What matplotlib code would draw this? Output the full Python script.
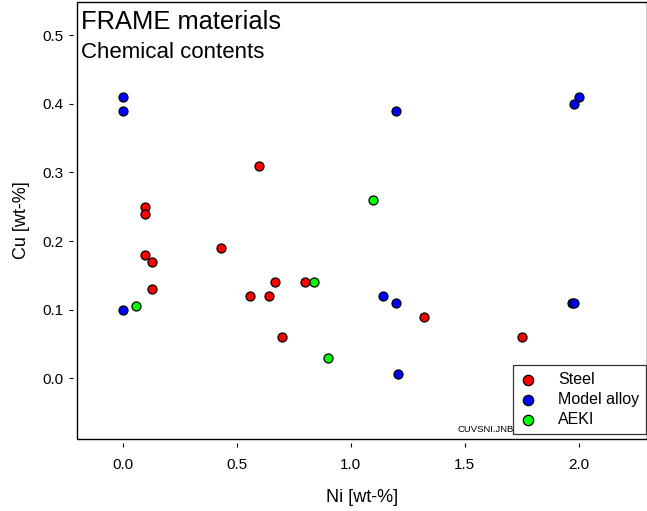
import matplotlib
matplotlib.use("Agg")
import matplotlib.pyplot as plt
from matplotlib.patches import Rectangle

plt.rcParams["font.family"] = ["Liberation Sans", "DejaVu Sans"]

# data
steel_ni = [0.10, 0.10, 0.10, 0.13, 0.13, 0.43, 0.60, 0.56, 0.64, 0.67, 0.70, 0.80, 1.32, 1.75]
steel_cu = [0.25, 0.24, 0.18, 0.17, 0.13, 0.19, 0.31, 0.12, 0.12, 0.14, 0.06, 0.14, 0.09, 0.06]

model_ni = [0.0, 0.0, 0.0, 1.20, 1.14, 1.20, 1.21, 2.00, 1.98, 1.97, 1.98]
model_cu = [0.41, 0.39, 0.10, 0.39, 0.12, 0.11, 0.006, 0.41, 0.40, 0.11, 0.11]

aeki_ni = [0.06, 0.84, 0.90, 1.10]
aeki_cu = [0.105, 0.14, 0.03, 0.26]

xticks = [0.0, 0.5, 1.0, 1.5, 2.0]
yticks = [0.0, 0.1, 0.2, 0.3, 0.4, 0.5]

fig = plt.figure(figsize=(6.47, 5.11), dpi=100)
ax = fig.add_axes([0.119, 0.141, 0.881, 0.855])

kw = dict(s=42, edgecolors="black", linewidths=0.9, zorder=3)
ax.scatter(steel_ni, steel_cu, c="#ff0000", label="Steel", **kw)
ax.scatter(model_ni, model_cu, c="#0000ff", label="Model alloy", **kw)
ax.scatter(aeki_ni, aeki_cu, c="#00ff00", label="AEKI", **kw)

ax.set_xlim(-0.2, 2.3)
ax.set_ylim(-0.088, 0.548)
ax.set_xticks(xticks)
ax.set_yticks(yticks)
ax.set_xticklabels([f"{v:.1f}" for v in xticks])
ax.set_yticklabels([f"{v:.1f}" for v in yticks])

# ticks sit a little outside the frame
for side in ["left", "bottom"]:
    ax.spines[side].set_position(("outward", 2.7))
    ax.spines[side].set_visible(False)
for side in ["top", "right"]:
    ax.spines[side].set_visible(False)
ax.add_patch(Rectangle((0, 0), 1, 1, transform=ax.transAxes, fill=False,
                       edgecolor="black", linewidth=1.0, clip_on=False, zorder=5))
ax.tick_params(direction="out", length=3, width=0.8, labelsize=11)
ax.tick_params(axis="x", pad=8)
ax.tick_params(axis="y", pad=4)

ax.set_xlabel("Ni [wt-%]", fontsize=13, labelpad=12)
ax.set_ylabel("Cu [wt-%]", fontsize=13, labelpad=9)

ax.text(0.007, 0.938, "FRAME materials", transform=ax.transAxes, fontsize=18.4,
        va="baseline", ha="left")
ax.text(0.007, 0.873, "Chemical contents", transform=ax.transAxes, fontsize=16,
        va="baseline", ha="left")

leg = ax.legend(loc="lower right", bbox_to_anchor=(0.999, 0.011), fontsize=11.5,
                frameon=True, fancybox=False, borderpad=0.45, labelspacing=0.3,
                handletextpad=1.4, handlelength=1.0, borderaxespad=0,
                markerscale=1.15)
leg.get_frame().set_edgecolor("black")
leg.get_frame().set_linewidth(0.9)
leg.set_zorder(6)

ax.text(0.767, 0.012, "CUVSNI.JNB", transform=ax.transAxes, fontsize=6.8,
        ha="right", va="bottom")

fig.savefig("out.png", dpi=100)
